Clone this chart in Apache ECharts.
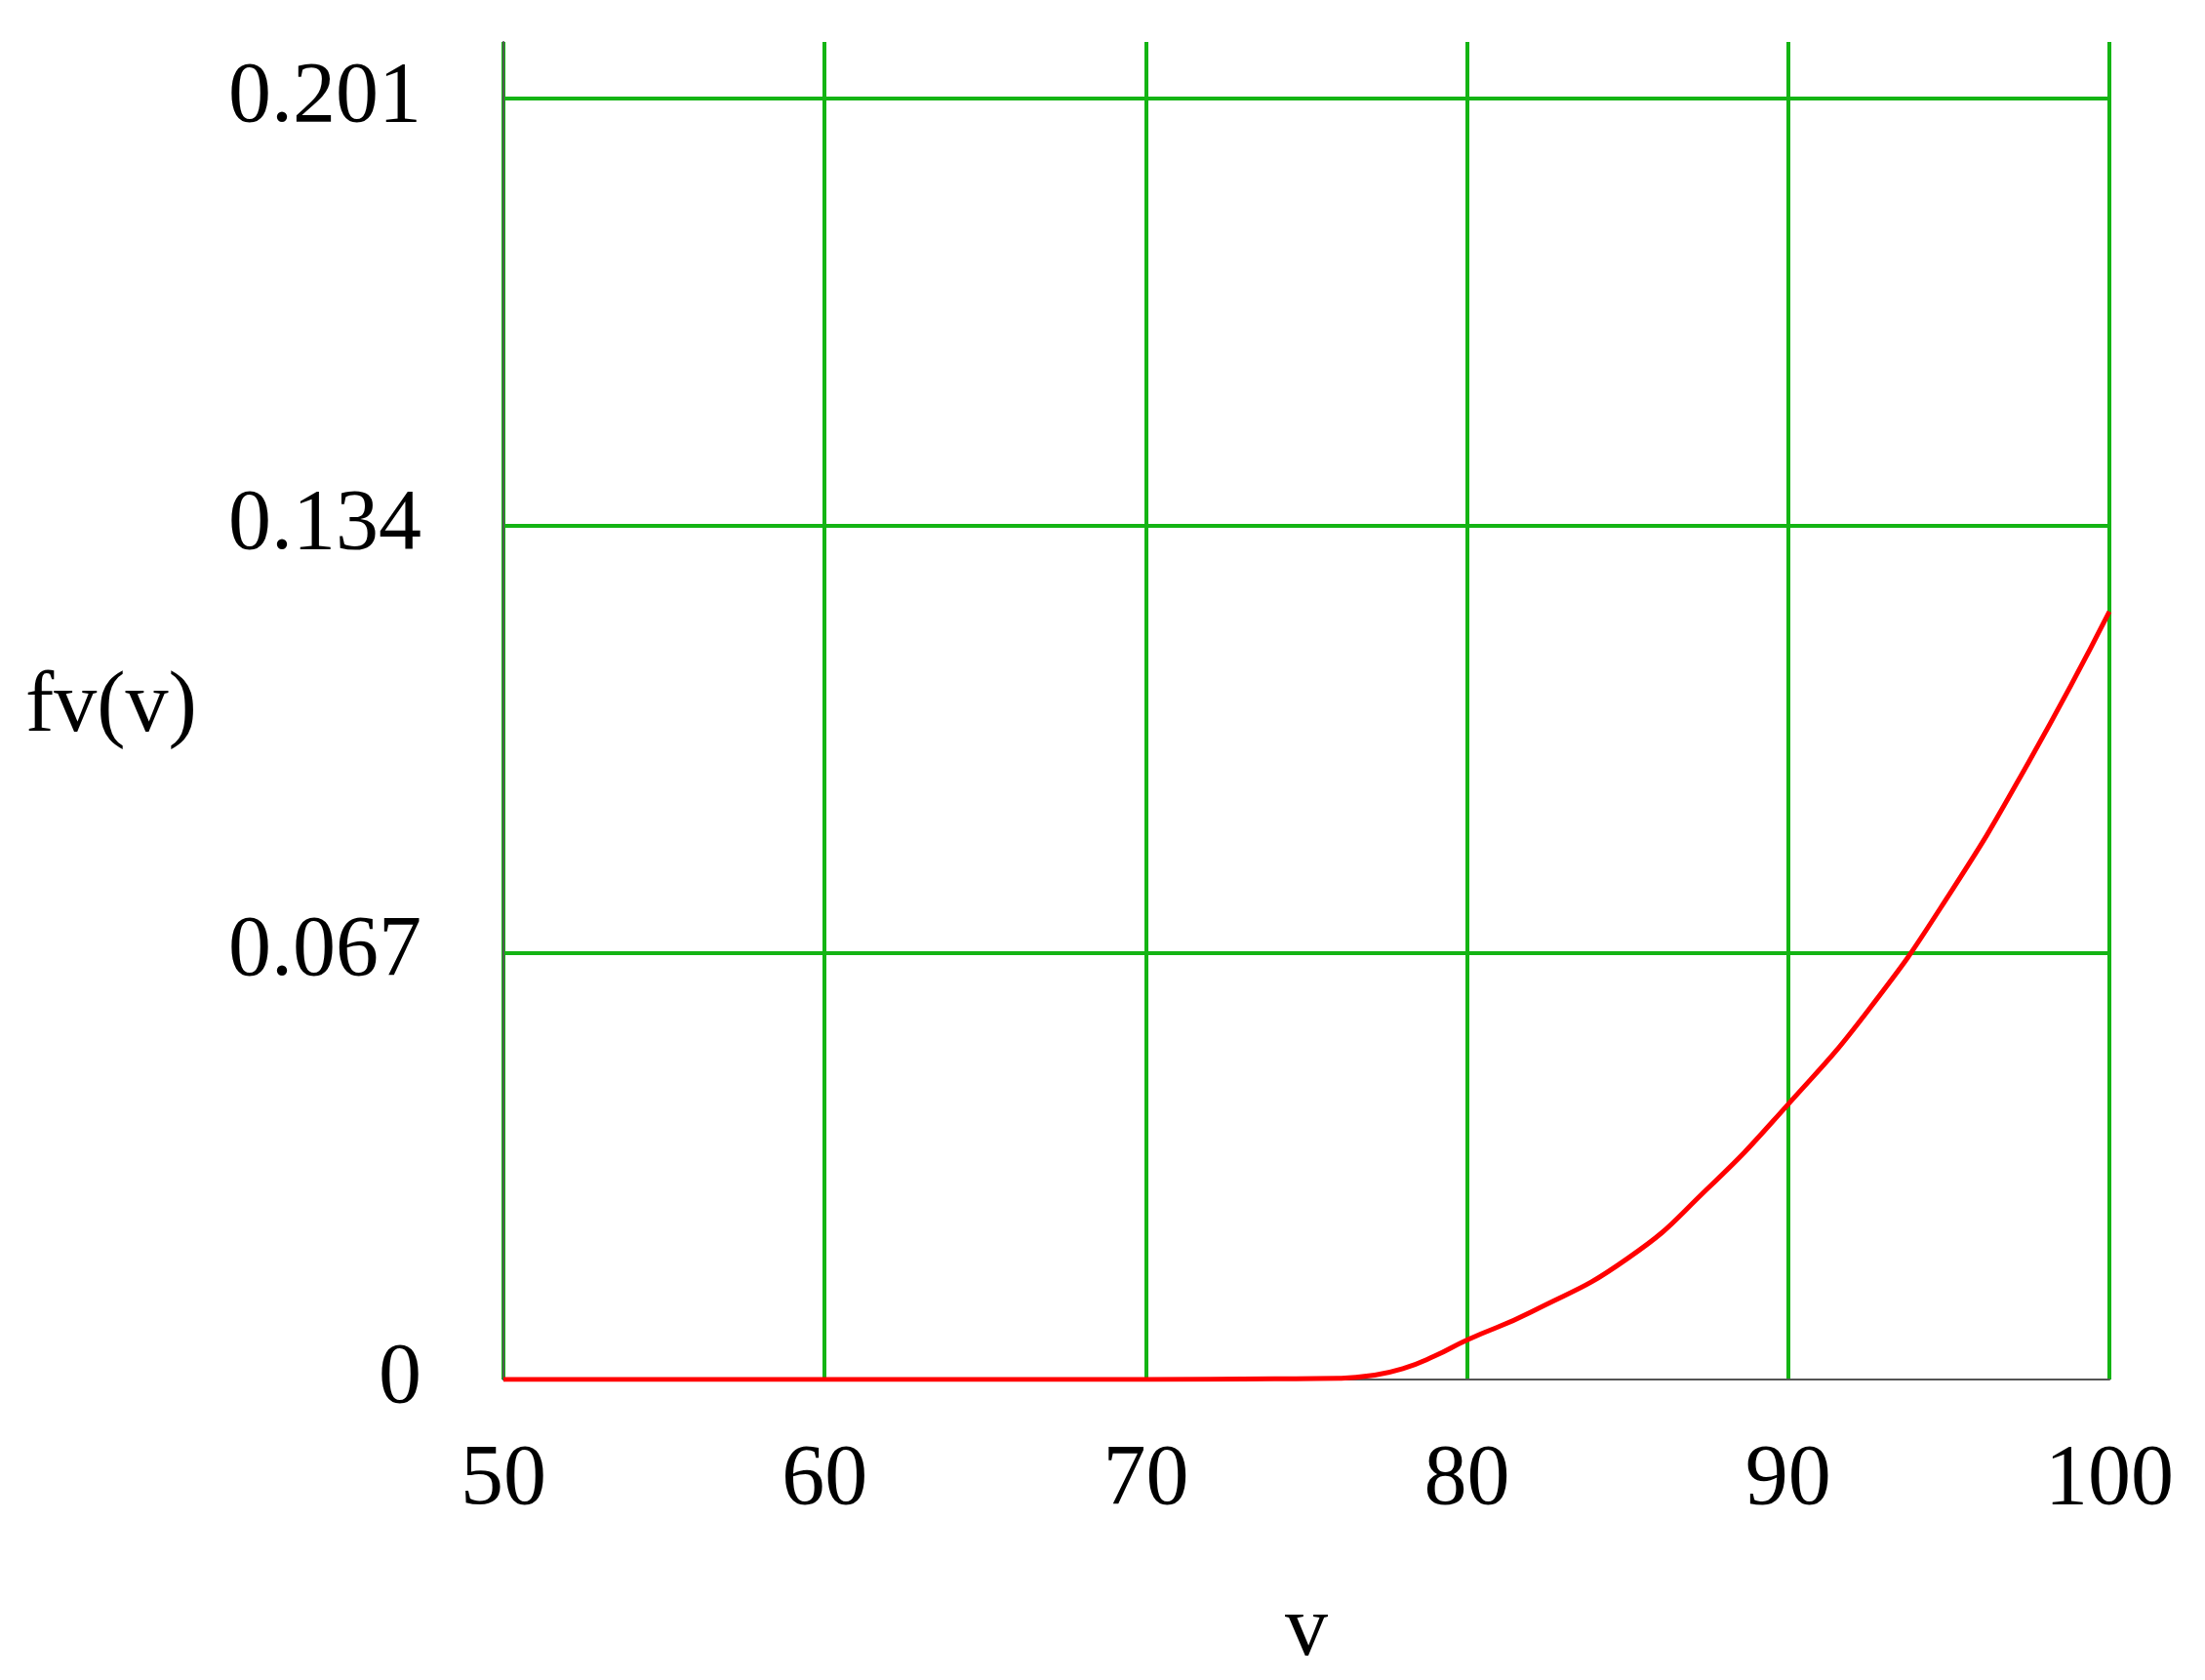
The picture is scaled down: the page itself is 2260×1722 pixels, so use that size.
<!DOCTYPE html>
<html><head><meta charset="utf-8">
<script src="https://cdn.jsdelivr.net/npm/echarts@6/dist/echarts.min.js"></script>
<style>html,body{margin:0;background:#fff}#c{width:2260px;height:1722px}</style>
</head><body><div id="c"></div>
<script>
const xTicks = [50, 60, 70, 80, 90, 100];
const yTicks = [0, 0.067, 0.134, 0.201];
const vValues = [50, 60, 70, 74, 76, 77, 78, 79, 80, 82, 85, 87.5, 90, 92.5, 95, 97.5, 100];
const fvValues = [0, 0, 0, 0.0001, 0.0002, 0.0006, 0.0017, 0.0037, 0.0062, 0.0106, 0.019, 0.030, 0.0432, 0.058, 0.076, 0.097, 0.1205];
const green = '#14b414';
const font = 'Liberation Serif';
const chart = echarts.init(document.getElementById('c'));
chart.setOption({
  animation: false,
  grid: {left: 516, right: 98, top: 43, bottom: 305},
  xAxis: {
    type: 'value', min: 50, max: 100, interval: 10,
    axisLine: {lineStyle: {color: '#555', width: 2}},
    axisTick: {show: false},
    axisLabel: {fontFamily: font, fontSize: 88, color: '#000', margin: 60},
    splitLine: {show: true, lineStyle: {color: green, width: 4}},
    name: 'v', nameLocation: 'middle', nameGap: 215,
    nameTextStyle: {fontFamily: font, fontSize: 88, color: '#000'}
  },
  yAxis: {
    type: 'value', min: 0, max: 0.2099, interval: 0.067,
    axisLine: {show: true, lineStyle: {color: '#555', width: 2}},
    axisTick: {show: false},
    axisLabel: {customValues: yTicks, fontFamily: font, fontSize: 88, color: '#000', margin: 84,
      formatter: v => v === 0 ? '0' : v.toFixed(3)},
    splitLine: {show: true, lineStyle: {color: ['rgba(0,0,0,0)', green, green, green, 'rgba(0,0,0,0)'], width: 4}}
  },
  graphic: [{type: 'text', left: 26, top: 682, style: {text: 'fv(v)', font: '88px "Liberation Serif"', fill: '#000'}}],
  series: [{
    type: 'line', data: vValues.map((v, i) => [v, fvValues[i]]),
    smooth: 0.5, showSymbol: false, z: 5,
    lineStyle: {color: '#ff0000', width: 5}
  }]
});
</script></body></html>
